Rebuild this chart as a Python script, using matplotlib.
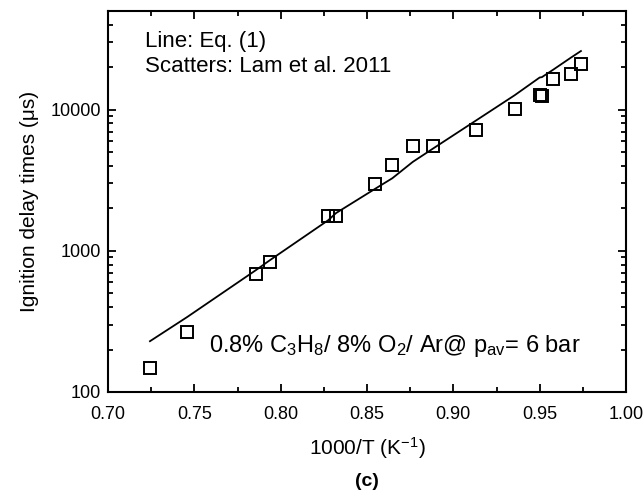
import matplotlib
matplotlib.use("Agg")
import matplotlib.pyplot as plt
from matplotlib.ticker import FixedLocator, MultipleLocator, LogLocator, NullFormatter

plt.rcParams["font.family"] = ["Liberation Sans", "DejaVu Sans"]
plt.rcParams["mathtext.fontset"] = "custom"
plt.rcParams["mathtext.rm"] = "Liberation Sans"
plt.rcParams["mathtext.it"] = "Liberation Sans"

# measured ignition delays (Lam et al. 2011)
inv_t = [0.7243, 0.7459, 0.7858, 0.7938, 0.8276, 0.8320, 0.8548, 0.8647, 0.8765,
         0.8880, 0.9131, 0.9355, 0.9500, 0.9513, 0.9579, 0.9681, 0.9739]
tau_exp = [149, 267, 681, 828, 1770, 1770, 2965, 4085, 5510,
           5510, 7145, 10180, 12700, 12500, 16600, 18000, 21200]

# Eq. (1) evaluated at the same conditions
tau_eq = [229, 340, 732, 859, 1650, 1849, 2755, 3270, 4265,
          5280, 8375, 12650, 16900, 17000, 19220, 23370, 26030]

fig = plt.figure(figsize=(6.44, 4.96), dpi=100)
ax = fig.add_axes([108/644, 1-392/496, 518/644, 381/496])

ax.plot(inv_t, tau_eq, color="black", lw=1.3)
ax.plot(inv_t, tau_exp, ls="none", marker="s", ms=8.5, mfc="none",
        mec="black", mew=1.4)

ax.set_yscale("log")
ax.set_xlim(0.70, 1.00)
ax.set_ylim(100, 50000)

ax.xaxis.set_major_locator(MultipleLocator(0.05))
ax.xaxis.set_minor_locator(MultipleLocator(0.025))
ax.xaxis.set_major_formatter(matplotlib.ticker.FormatStrFormatter("%.2f"))
ax.yaxis.set_major_locator(FixedLocator([100, 1000, 10000]))
ax.yaxis.set_major_formatter(matplotlib.ticker.FuncFormatter(lambda v, p: f"{int(v)}"))
ax.yaxis.set_minor_locator(LogLocator(base=10, subs=range(2, 10)))
ax.yaxis.set_minor_formatter(NullFormatter())

ax.tick_params(which="both", direction="in", top=True, right=True, labelsize=13, width=1.3)
ax.tick_params(which="major", length=6)
ax.tick_params(which="minor", length=3.5)
ax.tick_params(axis="x", which="major", pad=10)
ax.tick_params(axis="y", which="major", pad=5)
for s in ax.spines.values():
    s.set_linewidth(1.5)

ax.set_xlabel("1000/T (K$^{-1}$)", fontsize=15, labelpad=9)
ax.set_ylabel("Ignition delay times (μs)", fontsize=15, labelpad=8)

ax.text(0.072, 0.92, "Line: Eq. (1)", transform=ax.transAxes,
        fontsize=16, va="center", ha="left")
ax.text(0.072, 0.855, "Scatters: Lam et al. 2011", transform=ax.transAxes,
        fontsize=16, va="center", ha="left")
ax.text(0.195, 0.12, "0.8% C$_3$H$_8$/ 8% O$_2$/ Ar@ p$_{av}$= 6 bar",
        transform=ax.transAxes, fontsize=17, va="center", ha="left")

fig.text(367/644, 1-482/496, "(c)", fontsize=14, fontweight="bold", ha="center", va="center")

fig.savefig("out.png", dpi=100)
